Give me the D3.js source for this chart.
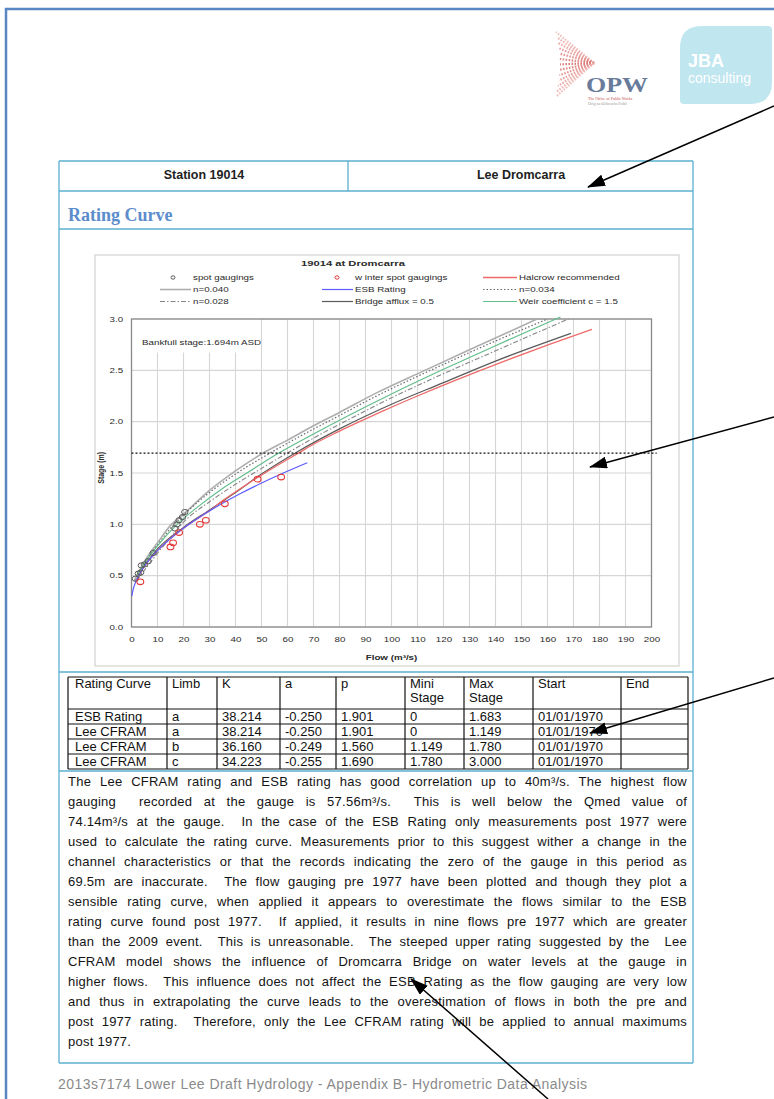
<!DOCTYPE html>
<html>
<head>
<meta charset="utf-8">
<script src="https://cdn.jsdelivr.net/npm/d3@7"></script>
<style>
  html, body { margin: 0; padding: 0; background: #fff; }
  svg { display: block; font-family: "Liberation Sans", Arial, sans-serif; }
</style>
</head>
<body>
<svg id="page" width="774" height="1099"></svg>
<script>
// ---------- chart data: (flow m3/s, stage m) ----------
const flowTicks  = [0,10,20,30,40,50,60,70,80,90,100,110,120,130,140,150,160,170,180,190,200];
const stageTicks = [0.0,0.5,1.0,1.5,2.0,2.5,3.0];

const spotGaugings   = [[1.5,0.47],[2.6,0.52],[3.5,0.53],[3.8,0.60],[5.0,0.61],[6.4,0.64],[8.3,0.72],
                        [16.7,0.96],[17.5,1.00],[18.3,1.04],[19.6,1.07],[20.5,1.12]];
const winterGaugings = [[3.4,0.44],[15.0,0.78],[16.0,0.82],[18.3,0.92],[26.3,1.00],[28.6,1.04],
                        [35.9,1.20],[48.5,1.44],[57.56,1.46]];

const halcrowCurve = [[1.79,0.45],[2.74,0.5],[5.19,0.6],[8.37,0.7],[12.27,0.8],[16.85,0.9],[22.11,1.0],
                      [28.06,1.1],[31.0,1.149],[33.43,1.2],[39.08,1.3],[45.03,1.4],[51.28,1.5],[57.82,1.6],
                      [64.21,1.694],[70.0,1.78],[79.37,1.9],[87.68,2.0],[96.35,2.1],[109.95,2.25],
                      [124.28,2.4],[134.24,2.5],[144.49,2.6],[160.47,2.75],[177.1,2.9]];
const esbCurve     = [[0.13,0.3],[0.48,0.35],[1.04,0.4],[2.74,0.5],[5.19,0.6],[8.37,0.7],[12.27,0.8],
                      [16.85,0.9],[22.11,1.0],[28.06,1.1],[34.66,1.2],[41.93,1.3],[49.84,1.4],[58.41,1.5],[67.6,1.6]];
const n040Curve    = [[1,0.45],[3,0.55],[6,0.68],[10,0.82],[15,0.99],[20,1.10],[30,1.33],[40,1.52],[50,1.685],
                      [60,1.82],[70,1.96],[80,2.09],[95,2.29],[112,2.49],[130,2.70],[156,3.0]];
const n034Curve    = [[1.5,0.45],[3,0.53],[6,0.66],[10,0.80],[15,0.96],[20,1.09],[30,1.31],[40,1.49],[53,1.69],
                      [65,1.86],[80,2.06],[95,2.26],[115,2.50],[135,2.73],[160,3.0]];
const n028Curve    = [[2,0.45],[4,0.52],[7,0.62],[10,0.72],[15,0.87],[20,1.02],[30,1.22],[40,1.39],[50,1.545],
                      [60,1.695],[70,1.84],[85,2.04],[95,2.17],[115,2.41],[140,2.69],[168,3.0]];
const bridgeCurve  = [[5,0.60],[10,0.76],[20,0.97],[30,1.14],[40,1.31],[50,1.49],[64,1.71],[80,1.93],
                      [100,2.17],[120,2.38],[140,2.59],[169,2.86]];
const weirCurve    = [[2,0.5],[5,0.62],[10,0.79],[17.5,1.0],[25,1.16],[35,1.35],[45,1.51],[56,1.685],
                      [70,1.88],[85,2.08],[100,2.27],[120,2.51],[140,2.74],[165,3.02]];

const bankfullStage = 1.694;
const bankfullSpan  = [0, 202];

const chartTitle   = "19014 at Dromcarra";
const legendLabels = ["spot gaugings","w inter spot gaugings","Halcrow  recommended",
                      "n=0.040","ESB Rating","n=0.034",
                      "n=0.028","Bridge afflux = 0.5","Weir coefficient c = 1.5"];

// ---------- rating table ----------
const tableHeaders = [["Rating Curve"],["Limb"],["K"],["a"],["p"],["Mini","Stage"],["Max","Stage"],["Start"],["End"]];
const ratingNames  = ["ESB Rating","Lee CFRAM","Lee CFRAM","Lee CFRAM"];
const limbs        = ["a","a","b","c"];
const kValues      = ["38.214","38.214","36.160","34.223"];
const aValues      = ["-0.250","-0.250","-0.249","-0.255"];
const pValues      = ["1.901","1.901","1.560","1.690"];
const minStages    = ["0","0","1.149","1.780"];
const maxStages    = ["1.683","1.149","1.780","3.000"];
const startDates   = ["01/01/1970","01/01/1970","01/01/1970","01/01/1970"];
const endDates     = ["","","",""];

const paragraph = [
  "The Lee CFRAM rating and ESB rating has good correlation up to 40m³/s. The highest flow",
  "gauging  recorded at the gauge is 57.56m³/s.  This is well below the Qmed value of",
  "74.14m³/s at the gauge.  In the case of the ESB Rating only measurements post 1977 were",
  "used to calculate the rating curve. Measurements prior to this suggest wither a change in the",
  "channel characteristics or that the records indicating the zero of the gauge in this period as",
  "69.5m are inaccurate.  The flow gauging pre 1977 have been plotted and though they plot a",
  "sensible rating curve, when applied it appears to overestimate the flows similar to the ESB",
  "rating curve found post 1977.  If applied, it results in nine flows pre 1977 which are greater",
  "than the 2009 event.  This is unreasonable.  The steeped upper rating suggested by the  Lee",
  "CFRAM model shows the influence of Dromcarra Bridge on water levels at the gauge in",
  "higher flows.  This influence does not affect the ESB Rating as the flow gauging are very low",
  "and thus in extrapolating the curve leads to the overestimation of flows in both the pre and",
  "post 1977 rating.  Therefore, only the Lee CFRAM rating will be applied to annual maximums",
  "post 1977."
];
const footerText = "2013s7174 Lower Lee Draft Hydrology - Appendix B- Hydrometric Data Analysis";

// ---------- page ----------
const svg = d3.select("#page");
const BLUE = "#5aafcf";
const SERIF = "'Liberation Serif', 'Times New Roman', serif";

// page frame
svg.append("path").attr("d", "M6,1099 V9 H774")
  .attr("fill", "none").attr("stroke", "#5b86c4").attr("stroke-width", 2.5);

// logos
const logo = svg.append("g");
const fanTip = [594, 63];
const fanRays = d3.range(0, 13);
logo.selectAll("line.ray").data(fanRays).join("line")
  .attr("x1", fanTip[0]).attr("y1", fanTip[1])
  .attr("x2", i => 556 + 4 * Math.sin(i / 12 * Math.PI))
  .attr("y2", i => 32 + i * 5.4)
  .attr("stroke", i => d3.interpolateRgb("#f4c4c0", "#d86a66")(1 - Math.abs(i - 6) / 7))
  .attr("stroke-width", 2.2).attr("stroke-dasharray", "1.6,1.4").attr("opacity", 0.85);
logo.append("text").attr("x", 586).attr("y", 92)
  .style("font-family", SERIF).attr("font-weight", "bold")
  .attr("font-size", 22).attr("fill", "#687b9b")
  .attr("textLength", 62).attr("lengthAdjust", "spacingAndGlyphs").text("OPW");
logo.append("text").attr("x", 588).attr("y", 100).attr("font-size", 4).attr("fill", "#c85050")
  .style("font-family", SERIF).text("The Office of Public Works");
logo.append("text").attr("x", 588).attr("y", 104.5).attr("font-size", 3.6).attr("fill", "#999")
  .style("font-family", SERIF).text("Oifig na nOibreacha Poiblí");

logo.append("path")
  .attr("d", "M702,26 H768 Q772,26 772,30 V82 Q772,104 750,104 H684 Q680,104 680,100 V48 Q680,26 702,26 Z")
  .attr("fill", "#c0e6ef");
logo.append("text").attr("x", 688).attr("y", 67).attr("font-size", 18).attr("font-weight", "bold")
  .attr("fill", "#fff").text("JBA");
logo.append("text").attr("x", 688).attr("y", 83).attr("font-size", 14)
  .attr("fill", "#fff").text("consulting");

// station table frame
const frame = svg.append("g").attr("stroke", BLUE).attr("stroke-width", 1.3).attr("fill", "none");
[[59,161,693,161],[59,191,693,191],[59,229,693,229],[59,672,693,672],[59,771,693,771],[59,1063,693,1063],
 [59,161,59,1063],[693,161,693,1063],[348,161,348,191]]
  .forEach(l => frame.append("line").attr("x1", l[0]).attr("y1", l[1]).attr("x2", l[2]).attr("y2", l[3]));

svg.append("text").attr("x", 204).attr("y", 178.5).attr("text-anchor", "middle")
  .attr("font-size", 12.5).attr("font-weight", "bold").attr("fill", "#222").text("Station 19014");
svg.append("text").attr("x", 521).attr("y", 178.5).attr("text-anchor", "middle")
  .attr("font-size", 12.5).attr("font-weight", "bold").attr("fill", "#222").text("Lee Dromcarra");
svg.append("text").attr("x", 68).attr("y", 220.5)
  .style("font-family", SERIF).attr("font-size", 18).attr("font-weight", "bold")
  .attr("fill", "#5b8ccb").text("Rating Curve");

// ---------- chart ----------
const SX = 1.4;   // chart lettering is set wide
const chart = svg.append("g");
chart.append("rect").attr("x", 95).attr("y", 255).attr("width", 584).attr("height", 411)
  .attr("fill", "#fff").attr("stroke", "#d2d2d2").attr("stroke-width", 1.2);

const x = d3.scaleLinear().domain([0, 200]).range([131.5, 651.5]);
const y = d3.scaleLinear().domain([0, 3]).range([627, 319]);

function wideText(parent, px, py, str, size, anchor, bold) {
  return parent.append("text")
    .attr("transform", `translate(${px},${py}) scale(${SX},1)`)
    .attr("text-anchor", anchor || "start")
    .attr("font-size", size).attr("font-weight", bold ? "bold" : "normal")
    .attr("fill", "#2a2a2a").text(str);
}

// grid
chart.append("g").selectAll("line").data(flowTicks).join("line")
  .attr("x1", d => x(d)).attr("x2", d => x(d)).attr("y1", y(0)).attr("y2", y(3))
  .attr("stroke", "#d6d6d6").attr("stroke-width", 1.1);
chart.append("g").selectAll("line").data(stageTicks).join("line")
  .attr("x1", x(0)).attr("x2", x(200)).attr("y1", d => y(d)).attr("y2", d => y(d))
  .attr("stroke", "#d6d6d6").attr("stroke-width", 1.1);

// bankfull note box hides the grid behind it
chart.append("rect").attr("x", x(0) + 0.5).attr("y", y(3) + 0.5).attr("width", 126).attr("height", 33)
  .attr("fill", "#fff");
wideText(chart, 142, 345, "Bankfull stage:1.694m ASD", 7);

// axes
const yAxis = chart.append("g").attr("transform", `translate(${x(0)},0)`)
  .call(d3.axisLeft(y).tickValues(stageTicks).tickFormat(d3.format(".1f")).tickSize(0).tickPadding(6));
yAxis.select(".domain").remove();
yAxis.selectAll("text").attr("font-size", 7).attr("fill", "#2a2a2a")
  .attr("transform", `scale(${SX},1)`);

const xAxis = chart.append("g").attr("transform", `translate(0,${y(0)})`)
  .call(d3.axisBottom(x).tickValues(flowTicks).tickFormat(d3.format("d")).tickSize(0).tickPadding(10));
xAxis.select(".domain").remove();
xAxis.selectAll("text").attr("font-size", 7).attr("fill", "#2a2a2a")
  .attr("transform", `scale(${SX},1)`);
yAxis.attr("font-family", null).attr("font-size", null);
xAxis.attr("font-family", null).attr("font-size", null);

// plot border
chart.append("rect").attr("x", x(0)).attr("y", y(3)).attr("width", x(200) - x(0)).attr("height", y(0) - y(3))
  .attr("fill", "none").attr("stroke", "#8a8a8a").attr("stroke-width", 1.3);

wideText(chart, (x(0) + x(200)) / 2, 659.5, "Flow (m³/s)", 7, "middle", true);
chart.append("text").attr("transform", `translate(104,${y(1.55)}) rotate(-90) scale(1,${SX})`)
  .attr("text-anchor", "middle").attr("font-size", 7).attr("font-weight", "bold")
  .attr("fill", "#2a2a2a").text("Stage (m)");

wideText(chart, 353, 266, chartTitle, 8, "middle", true);

// curve styles
const styles = {
  n040:    { stroke: "#aeaeae", width: 1.6, dash: null },
  n034:    { stroke: "#6a6a6a", width: 1.2, dash: "1.5,2" },
  weir:    { stroke: "#62be8a", width: 1.2, dash: null },
  n028:    { stroke: "#858585", width: 1.1, dash: "5,2,1.5,2" },
  bridge:  { stroke: "#5a5a5a", width: 1.2, dash: null },
  halcrow: { stroke: "#f06a6a", width: 1.3, dash: null },
  esb:     { stroke: "#5c5cff", width: 1.2, dash: null }
};
const line = d3.line().x(d => x(d[0])).y(d => y(d[1])).curve(d3.curveMonotoneX);
const plotG = chart.append("g");
[["n040", n040Curve], ["n034", n034Curve], ["n028", n028Curve], ["weir", weirCurve],
 ["bridge", bridgeCurve], ["halcrow", halcrowCurve], ["esb", esbCurve]].forEach(([k, data]) => {
  const s = styles[k];
  plotG.append("path").datum(data).attr("d", line).attr("fill", "none")
    .attr("stroke", s.stroke).attr("stroke-width", s.width)
    .attr("stroke-dasharray", s.dash);
});

// bankfull level
chart.append("line").attr("x1", x(bankfullSpan[0])).attr("x2", x(bankfullSpan[1]))
  .attr("y1", y(bankfullStage)).attr("y2", y(bankfullStage))
  .attr("stroke", "#111").attr("stroke-width", 1.4).attr("stroke-dasharray", "2,2");

// gaugings
plotG.append("g").selectAll("ellipse").data(spotGaugings).join("ellipse")
  .attr("cx", d => x(d[0])).attr("cy", d => y(d[1])).attr("rx", 3.2).attr("ry", 2.6)
  .attr("fill", "none").attr("stroke", "#5a5a5a").attr("stroke-width", 1);
plotG.append("g").selectAll("ellipse").data(winterGaugings).join("ellipse")
  .attr("cx", d => x(d[0])).attr("cy", d => y(d[1])).attr("rx", 3.4).attr("ry", 2.8)
  .attr("fill", "none").attr("stroke", "#e63a3a").attr("stroke-width", 1.1);

// legend
const legend = chart.append("g");
const legCols = [{ mark: 173, l0: 160, l1: 191, text: 193 },
                 { mark: 337, l0: 322, l1: 353, text: 355 },
                 { mark: 500, l0: 483, l1: 517, text: 519 }];
const legRows = [277.5, 289.5, 301.5];
const legKeys = ["spot", "winter", "halcrow", "n040", "esb", "n034", "n028", "bridge", "weir"];
legendLabels.forEach((lab, i) => {
  const c = legCols[i % 3], r = legRows[Math.floor(i / 3)], k = legKeys[i];
  if (k === "spot" || k === "winter") {
    legend.append("ellipse").attr("cx", c.mark).attr("cy", r).attr("rx", 2).attr("ry", 1.7)
      .attr("fill", "none").attr("stroke", k === "spot" ? "#5a5a5a" : "#e63a3a").attr("stroke-width", 1);
  } else {
    const s = styles[k];
    legend.append("line").attr("x1", c.l0).attr("x2", c.l1).attr("y1", r).attr("y2", r)
      .attr("stroke", s.stroke).attr("stroke-width", s.width).attr("stroke-dasharray", s.dash);
  }
  wideText(legend, c.text, r + 2.5, lab, 7);
});

// ---------- rating table ----------
const cols = [68, 167, 217, 280, 336, 405, 464, 533, 621, 688];
const rows = [677, 709, 724, 739, 754, 769];
const tbl = svg.append("g");
const tl = tbl.append("g").attr("stroke", "#111").attr("stroke-width", 1.2);
rows.forEach(r => tl.append("line").attr("x1", cols[0]).attr("x2", cols[cols.length - 1]).attr("y1", r).attr("y2", r));
cols.forEach(c => tl.append("line").attr("x1", c).attr("x2", c).attr("y1", rows[0]).attr("y2", rows[rows.length - 1]));

tableHeaders.forEach((h, ci) => {
  h.forEach((t, li) => tbl.append("text").attr("x", cols[ci] + (ci === 0 ? 7 : 5)).attr("y", 688 + li * 14)
    .attr("font-size", 13).attr("fill", "#111").text(t));
});
const columns = [ratingNames, limbs, kValues, aValues, pValues, minStages, maxStages, startDates, endDates];
columns.forEach((colVals, ci) => {
  colVals.forEach((v, ri) => tbl.append("text").attr("x", cols[ci] + (ci === 0 ? 7 : 5))
    .attr("y", rows[ri + 1] + 12).attr("font-size", 13).attr("fill", "#111").text(v));
});

// ---------- commentary, justified ----------
const para = svg.append("g");
const left = 68, right = 687;
paragraph.forEach((ln, i) => {
  const t = para.append("text").attr("x", left).attr("y", 786 + i * 20)
    .attr("font-size", 13).attr("fill", "#141414").attr("letter-spacing", 0.25)
    .style("white-space", "pre").text(ln);
  if (i < paragraph.length - 1) {
    const w = t.node().getComputedTextLength();
    const spaces = (ln.match(/ /g) || []).length;
    if (spaces) t.style("word-spacing", ((right - left - w) / spaces) + "px");
  }
});

svg.append("text").attr("x", 58).attr("y", 1089).attr("font-size", 14)
  .attr("letter-spacing", 0.45).attr("fill", "#8a8a8a").text(footerText);

// ---------- annotation arrows ----------
svg.append("defs").append("marker").attr("id", "head")
  .attr("viewBox", "0 0 18 12").attr("refX", 17).attr("refY", 6)
  .attr("markerWidth", 18).attr("markerHeight", 12).attr("markerUnits", "userSpaceOnUse")
  .attr("orient", "auto")
  .append("path").attr("d", "M0,0 L18,6 L0,12 Z").attr("fill", "#000");
[[774, 106, 588, 187], [774, 417, 590, 467], [774, 678, 590, 733], [548, 1099, 411, 979]]
  .forEach(a => svg.append("line").attr("x1", a[0]).attr("y1", a[1]).attr("x2", a[2]).attr("y2", a[3])
    .attr("stroke", "#000").attr("stroke-width", 1.5).attr("marker-end", "url(#head)"));
</script>
</body>
</html>
